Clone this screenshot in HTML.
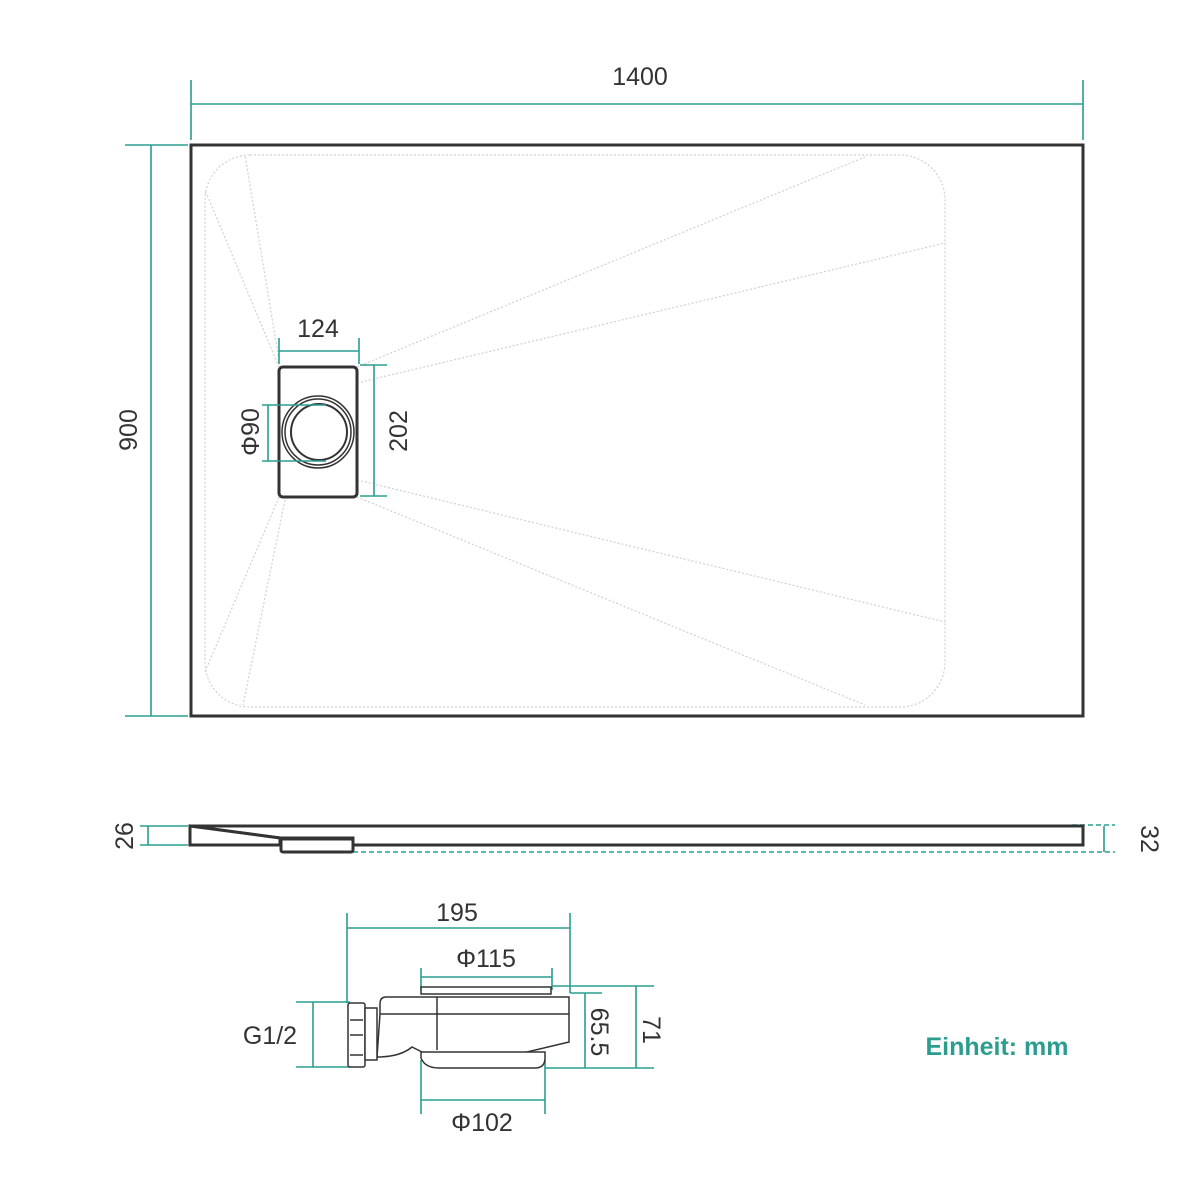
<!DOCTYPE html>
<html><head><style>body{margin:0;background:#fff}svg{display:block}text{font-family:"Liberation Sans",sans-serif;fill:#333}</style></head><body>
<svg width="1200" height="1200" viewBox="0 0 1200 1200" xmlns="http://www.w3.org/2000/svg">
<g stroke="#d0d0d0" stroke-width="1.2" stroke-dasharray="2,2" fill="none">
<rect x="205" y="155" width="740" height="552" rx="45"/>
<line x1="279" y1="367" x2="205" y2="190"/><line x1="279" y1="360" x2="245" y2="155"/>
<line x1="357" y1="367" x2="865" y2="157"/><line x1="357" y1="383" x2="945" y2="243"/>
<line x1="357" y1="480" x2="945" y2="622"/><line x1="357" y1="497" x2="865" y2="705"/>
<line x1="279" y1="497" x2="205" y2="672"/><line x1="285" y1="500" x2="243" y2="705"/>
</g>
<rect x="191" y="145" width="892" height="571" fill="none" stroke="#333" stroke-width="3"/>
<rect x="279" y="367" width="78" height="130" rx="4" fill="#fff" stroke="#333" stroke-width="3"/>
<circle cx="318" cy="432" r="36" fill="none" stroke="#333" stroke-width="1.5"/>
<circle cx="318" cy="432" r="33" fill="none" stroke="#333" stroke-width="1.5"/>
<circle cx="319" cy="432" r="28" fill="none" stroke="#333" stroke-width="2"/>
<g stroke="#2a9d8f" stroke-width="1.6" fill="none">
<line x1="191" y1="104" x2="1083" y2="104"/><line x1="191" y1="80" x2="191" y2="140"/><line x1="1083" y1="80" x2="1083" y2="140"/>
<line x1="151" y1="145" x2="151" y2="716"/><line x1="125" y1="145" x2="188" y2="145"/><line x1="125" y1="716" x2="188" y2="716"/>
<line x1="279" y1="351" x2="359" y2="351"/><line x1="279" y1="338" x2="279" y2="364"/><line x1="359" y1="338" x2="359" y2="364"/>
<line x1="374" y1="365" x2="374" y2="496"/><line x1="360" y1="365" x2="387" y2="365"/><line x1="360" y1="496" x2="387" y2="496"/>
<line x1="268" y1="405" x2="268" y2="461"/><line x1="262" y1="405" x2="326" y2="405"/><line x1="262" y1="461" x2="326" y2="461"/>
<line x1="148" y1="826" x2="148" y2="845"/><line x1="140" y1="826" x2="188" y2="826"/><line x1="140" y1="845" x2="188" y2="845"/>
<line x1="1104" y1="826" x2="1104" y2="852"/>
<line x1="345" y1="852" x2="1115" y2="852" stroke-dasharray="5,3"/>
<line x1="1072" y1="825" x2="1115" y2="825" stroke-dasharray="5,3"/>
<line x1="347" y1="928" x2="570" y2="928"/><line x1="347" y1="913" x2="347" y2="1003"/><line x1="570" y1="913" x2="570" y2="993"/>
<line x1="421" y1="977" x2="552" y2="977"/><line x1="421" y1="968" x2="421" y2="990"/><line x1="552" y1="968" x2="552" y2="990"/>
<line x1="585" y1="993" x2="585" y2="1068"/><line x1="570" y1="993" x2="602" y2="993"/>
<line x1="636" y1="986" x2="636" y2="1068"/><line x1="552" y1="986" x2="654" y2="986"/>
<line x1="545" y1="1068" x2="654" y2="1068"/>
<line x1="313" y1="1002" x2="313" y2="1067"/><line x1="296" y1="1002" x2="350" y2="1002"/><line x1="296" y1="1067" x2="350" y2="1067"/>
<line x1="421" y1="1100" x2="545" y2="1100"/><line x1="421" y1="1060" x2="421" y2="1114"/><line x1="545" y1="1060" x2="545" y2="1114"/>
</g>
<g stroke="#333" stroke-width="3" fill="#fff">
<polygon points="190,826 1083,826 1083,845 353,845 353,838 280,838"/>
<polygon points="190,826 280,838 280,845 190,845"/>
<rect x="281" y="839" width="72" height="13" rx="2"/>
</g>
<g stroke="#333" stroke-width="1.5" fill="#fff">
<path d="M380,1014 v-10 q0,-7 6,-7 h183 v45 l-105,25 h-12 l-40,-20 q-12,10 -35,10 z"/>
<line x1="380" y1="1014" x2="569" y2="1014"/><line x1="437" y1="997" x2="437" y2="1050"/>
<path d="M421,1058 q4,10 18,10 h96 q10,0 10,-10 v-6 h-124 z"/>
<rect x="421" y="987" width="130" height="7"/>
<rect x="348" y="1003" width="17" height="64" rx="2"/>
<line x1="350" y1="1020" x2="363" y2="1020"/><line x1="350" y1="1035" x2="363" y2="1035"/><line x1="350" y1="1055" x2="363" y2="1055"/>
<rect x="365" y="1008" width="12" height="52"/>
</g>
<g font-size="25">
<text x="640" y="85" text-anchor="middle">1400</text>
<text transform="translate(137,430) rotate(-90)" text-anchor="middle">900</text>
<text x="318" y="337" text-anchor="middle">124</text>
<text transform="translate(407,431) rotate(-90)" text-anchor="middle">202</text>
<text transform="translate(259,432) rotate(-90)" text-anchor="middle">Φ90</text>
<text transform="translate(133,836) rotate(-90)" text-anchor="middle">26</text>
<text transform="translate(1141,839) rotate(90)" text-anchor="middle">32</text>
<text x="457" y="921" text-anchor="middle">195</text>
<text x="486" y="967" text-anchor="middle">Φ115</text>
<text x="270" y="1044" text-anchor="middle">G1/2</text>
<text transform="translate(591,1032) rotate(90)" text-anchor="middle">65.5</text>
<text transform="translate(643,1030) rotate(90)" text-anchor="middle">71</text>
<text x="482" y="1131" text-anchor="middle">Φ102</text>
</g>
<text x="997" y="1055" text-anchor="middle" font-size="25" font-weight="bold" style="fill:#2a9d8f">Einheit: mm</text>
</svg>
</body></html>
